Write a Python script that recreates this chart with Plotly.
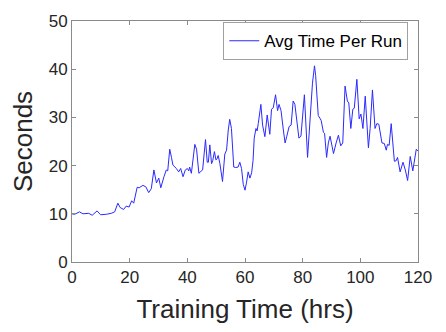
import plotly.graph_objects as go

# Training time (hours) and average time per run (seconds)
train_hrs = [
    0.0, 0.9, 2.6, 3.8, 5.8, 7.0, 8.7, 9.9, 11.9, 13.6, 14.8, 15.9, 16.7, 17.9,
    18.8, 19.8, 20.7, 21.4, 22.6, 23.3, 24.6, 25.6, 26.6, 27.5, 28.4, 29.3,
    30.1, 30.8, 31.9, 32.7, 33.2, 33.9, 34.5, 35.0, 36.2, 37.0, 37.7, 38.5,
    39.3, 40.0, 40.5, 40.8, 41.4, 42.6, 43.2, 44.0, 44.7, 45.3, 46.3, 46.9,
    47.3, 47.8, 48.4, 48.8, 49.4, 49.9, 50.3, 50.7, 51.3, 52.2, 53.0, 53.6,
    54.2, 54.7, 55.3, 56.1, 56.8, 57.6, 58.2, 58.8, 59.4, 60.0, 60.5, 61.1,
    61.7, 62.3, 62.8, 63.2, 63.8, 64.2, 64.6, 65.5, 66.1, 66.9, 67.7, 68.6,
    69.2, 69.8, 70.6, 71.3, 71.8, 72.5, 73.3, 73.9, 74.5, 75.3, 76.0, 76.7,
    77.3, 78.0, 78.7, 79.4, 80.6, 81.7, 82.6, 83.4, 84.1, 84.5, 85.4, 86.4,
    87.2, 87.6, 88.3, 88.9, 89.5, 90.1, 90.7, 91.6, 92.4, 93.2, 93.9, 94.7,
    95.5, 96.0, 96.7, 97.4, 97.9, 98.8, 99.6, 100.2, 100.9, 101.7, 102.8,
    103.4, 104.2, 105.1, 105.7, 106.4, 107.5, 108.3, 109.0, 109.4, 110.0,
    110.7, 111.8, 112.4, 112.9, 113.8, 114.8, 115.6, 116.4, 117.3, 118.2,
    119.4, 120.0,
]
avg_time = [
    10.0, 9.9, 10.4, 10.0, 10.1, 9.7, 10.6, 9.8, 9.9, 10.1, 10.4, 12.2, 11.3,
    10.9, 11.6, 11.4, 12.7, 12.2, 15.5, 15.4, 15.9, 15.6, 14.4, 15.2, 19.1,
    16.4, 17.4, 15.4, 17.7, 19.1, 18.9, 23.4, 21.7, 20.1, 19.4, 18.7, 19.4,
    17.7, 19.1, 19.4, 18.9, 19.7, 18.4, 24.4, 23.4, 18.4, 18.8, 19.1, 25.4,
    20.7, 20.7, 24.3, 20.4, 21.0, 22.9, 21.2, 21.4, 22.1, 20.4, 16.7, 22.4,
    23.2, 27.4, 29.6, 27.7, 19.7, 19.6, 19.7, 20.7, 19.4, 16.1, 14.9, 16.4,
    18.7, 17.4, 18.5, 21.1, 25.7, 27.7, 27.2, 28.7, 32.7, 28.4, 26.0, 30.5,
    26.5, 31.7, 32.0, 34.7, 31.4, 32.7, 31.4, 27.4, 24.7, 26.1, 28.1, 28.4,
    33.4, 32.7, 29.4, 25.7, 26.1, 34.7, 21.7, 29.1, 37.1, 40.7, 38.7, 30.4,
    29.4, 26.9, 26.7, 21.7, 24.7, 26.1, 24.4, 22.5, 24.7, 26.3, 24.1, 24.7,
    36.5, 33.4, 33.0, 27.7, 31.7, 31.9, 37.9, 29.7, 30.7, 27.7, 34.4, 23.7,
    27.7, 35.7, 27.7, 28.7, 28.6, 24.7, 24.6, 23.2, 24.4, 24.2, 28.7, 20.9,
    21.0, 21.7, 18.7, 20.7, 19.1, 16.9, 21.9, 18.9, 23.4, 23.0,
]

x_ticks = [0, 20, 40, 60, 80, 100, 120]
y_ticks = [0, 10, 20, 30, 40, 50]

AXIS_GRAY = "#8a8a8a"
TEXT = "#262626"
FONT = "Liberation Sans, Arial, Helvetica, sans-serif"

fig = go.Figure()
fig.add_trace(go.Scatter(
    x=train_hrs, y=avg_time, mode="lines", name="Avg Time Per Run",
    line=dict(color="#2a2aff", width=1),
))

axis_common = dict(
    showgrid=False, zeroline=False, showline=True, linecolor=AXIS_GRAY,
    linewidth=1, mirror="allticks", ticks="inside", ticklen=4,
    tickcolor=AXIS_GRAY, tickwidth=1,
    tickfont=dict(family=FONT, size=17, color=TEXT),
)

fig.update_layout(
    width=446, height=332,
    margin=dict(l=72, r=28, t=12, b=70),
    paper_bgcolor="white", plot_bgcolor="white",
    font=dict(family=FONT, color=TEXT),
    xaxis=dict(range=[0, 120], tickvals=x_ticks,
               title=dict(text="Training Time (hrs)",
                          font=dict(family=FONT, size=26, color=TEXT),
                          standoff=13),
               **axis_common),
    yaxis=dict(range=[0, 50], tickvals=y_ticks,
               title=dict(text="Seconds",
                          font=dict(family=FONT, size=26, color=TEXT),
                          standoff=8),
               **axis_common),
    showlegend=True,
    legend=dict(x=0.972, y=0.995, xanchor="right", yanchor="top",
                bgcolor="white", bordercolor="#a0a0a0", borderwidth=1,
                font=dict(family=FONT, size=17, color="black"),
                itemwidth=30, tracegroupgap=0),
)

fig.write_html("out.html")
